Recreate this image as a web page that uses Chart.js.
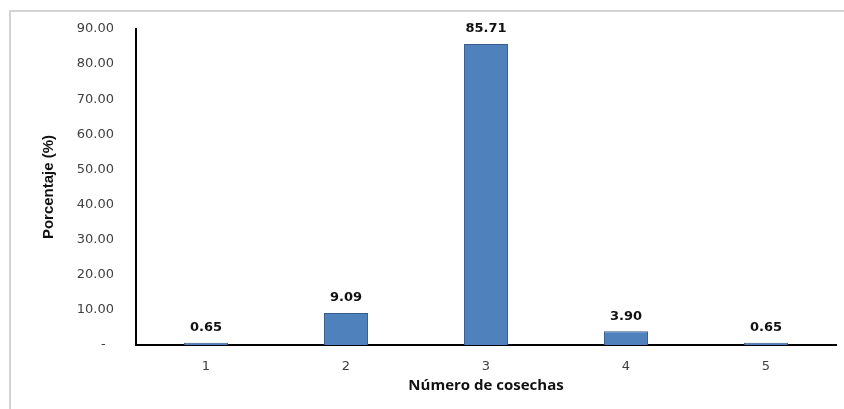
<!DOCTYPE html>
<html>
<head>
<meta charset="utf-8">
<script src="https://cdn.jsdelivr.net/npm/chart.js@4"></script>
<style>
  html, body { margin: 0; padding: 0; background: #fff; }
  #wrap { width: 844px; height: 409px; position: relative; }
</style>
</head>
<body>
<div id="wrap"><canvas id="myChart"></canvas></div>
<script>
const ctx = document.getElementById('myChart');

var cosechas = ['1', '2', '3', '4', '5'];
var porcentaje = [0.65, 9.09, 85.71, 3.90, 0.65];
var yTickLabels = ['-  ', '10.00', '20.00', '30.00', '40.00', '50.00', '60.00', '70.00', '80.00', '90.00'];

// light gray frame around the chart (top and left edges)
const frame = {
    id: 'frame',
    beforeDraw(chart) {
        const c = chart.ctx;
        c.save();
        c.strokeStyle = '#d4d4d4';
        c.lineWidth = 2;
        c.beginPath();
        c.moveTo(10, 409);
        c.lineTo(10, 11);
        c.lineTo(844, 11);
        c.stroke();
        c.restore();
    }
};

// value labels above each bar
const barLabels = {
    id: 'barLabels',
    afterDatasetsDraw(chart) {
        const c = chart.ctx;
        const meta = chart.getDatasetMeta(0);
        c.save();
        c.font = 'bold 13px "DejaVu Sans"';
        c.fillStyle = '#111';
        c.textAlign = 'center';
        c.textBaseline = 'middle';
        meta.data.forEach(function (bar, i) {
            c.fillText(porcentaje[i].toFixed(2), bar.x, bar.y - 15);
        });
        c.restore();
    }
};

new Chart(ctx, {
    type: 'bar',
    data: {
        labels: cosechas,
        datasets: [{
            data: porcentaje,
            backgroundColor: '#4f81bd',
            borderColor: '#385d8a',
            borderWidth: 1,
            categoryPercentage: 1,
            barPercentage: 0.314
        }]
    },
    options: {
        responsive: true,
        maintainAspectRatio: false,
        animation: false,
        layout: { padding: { left: 0, right: 8, top: 29, bottom: 0 } },
        plugins: {
            legend: { display: false },
            tooltip: { enabled: false }
        },
        scales: {
            x: {
                grid: { display: false },
                border: { display: true, color: '#000', width: 2 },
                ticks: {
                    color: '#404040',
                    font: { family: 'DejaVu Sans', size: 13 },
                    padding: 6
                },
                title: {
                    display: true,
                    text: 'Número de cosechas',
                    color: '#111',
                    font: { family: 'Open Sans', size: 15, weight: 'bold' },
                    padding: { top: 0, bottom: 14 }
                },
                afterFit(scale) { scale.height = 64; }
            },
            y: {
                min: 0,
                max: 90,
                grid: { display: false },
                border: { display: true, color: '#000', width: 2 },
                ticks: {
                    stepSize: 10,
                    color: '#404040',
                    font: { family: 'DejaVu Sans', size: 13 },
                    padding: 14,
                    callback: function (value, index) { return yTickLabels[index]; }
                },
                title: {
                    display: true,
                    text: 'Porcentaje (%)',
                    color: '#111',
                    font: { family: 'Liberation Sans', size: 15, weight: 'bold' },
                    padding: { top: 40, bottom: 0 }
                },
                afterFit(scale) { scale.width = 136; }
            }
        }
    },
    plugins: [frame, barLabels]
});
</script>
</body>
</html>
